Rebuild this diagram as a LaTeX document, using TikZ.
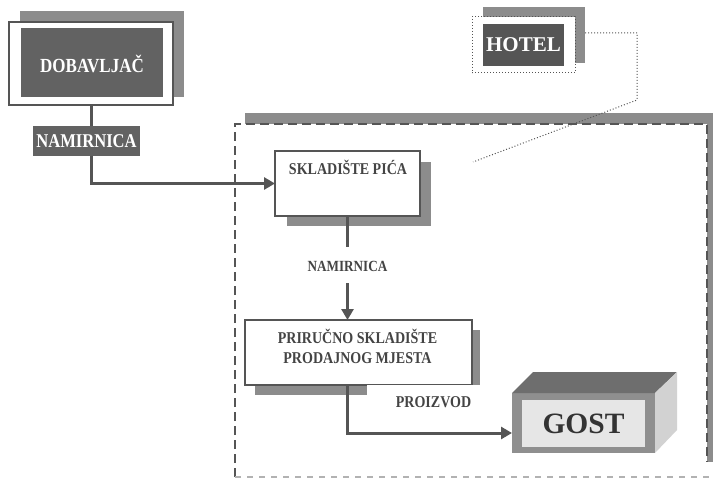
\documentclass[tikz,border=0pt]{standalone}
\usepackage{fontspec}
\setmainfont{Liberation Serif}
\newfontfamily\condfont[FakeStretch=0.85]{Liberation Serif}
\usetikzlibrary{arrows.meta}
\definecolor{dk}{HTML}{555555}
\definecolor{txt}{HTML}{444444}
\definecolor{boxdk}{HTML}{626262}
\definecolor{shd}{HTML}{8C8C8C}
\definecolor{topf}{HTML}{6E6E6E}
\definecolor{sidef}{HTML}{D2D2D2}
\definecolor{innerf}{HTML}{E6E6E6}
\definecolor{frontf}{HTML}{8F8F8F}
\begin{document}
\begin{tikzpicture}[x=1pt,y=-1pt,
  rect/.style={rectangle,inner sep=0pt,outer sep=0pt},
  shadowbox/.style={rect,fill=shd},
  whitebox/.style={rect,fill=white,draw=dk,line width=1.2pt},
  darkbox/.style={rect,fill=boxdk,text=white,font=\bfseries},
  lbl/.style={font=\condfont\bfseries\fontsize{16.5}{19.3}\selectfont,text=txt,align=center},
  flow/.style={draw=dk,line width=3pt},
  tip/.style={-{Triangle[length=11pt,width=12pt]}},
  dotline/.style={draw=dk,line width=1pt,dotted}
]
\useasboundingbox (0,0) rectangle (715,481);

% dashed region
\fill[shd] (245,113) rectangle (713,124);
\fill[shd] (707,113) rectangle (713,462);
\draw[dk,line width=2.5pt,dash pattern=on 9pt off 5pt] (235,477) -- (235,124) -- (707,124) -- (707,462);
\draw[gray!60,line width=1.5pt,dash pattern=on 6pt off 6pt] (235,477) -- (715,477);

% DOBAVLJAC
\node[shadowbox,minimum width=164pt,minimum height=86pt] (dobs) at (102,54) {};
\node[whitebox,minimum width=164pt,minimum height=83pt] (dob) at (91,63.5) {};
\node[darkbox,minimum width=142pt,minimum height=69pt] (dobi) at (92,62.5) {};
\node[text=white,font=\condfont\bfseries\fontsize{20}{22}\selectfont] (dobt) at (92,64) {DOBAVLJAČ};

% NAMIRNICA (top)
\node[darkbox,minimum width=107pt,minimum height=30pt,font=\condfont\bfseries\fontsize{19.5}{22}\selectfont] (nam1) at (86.5,141) {NAMIRNICA};

% SKLADISTE PICA
\node[shadowbox,minimum width=144pt,minimum height=64pt] (skls) at (359,194) {};
\node[whitebox,minimum width=145pt,minimum height=65pt] (skl) at (347.5,183.5) {};
\node[lbl] (sklt) at (348,167.5) {SKLADIŠTE PIĆA};

% NAMIRNICA (middle)
\node[lbl,font=\condfont\bfseries\fontsize{15.5}{18}\selectfont] (nam2) at (347.5,266) {NAMIRNICA};
\coordinate (m1) at (347.5,247);
\coordinate (m2) at (347.5,283);

% PRIRUCNO
\node[shadowbox,minimum width=225pt,minimum height=65pt] (pris) at (367.5,362.5) {};
\node[whitebox,minimum width=227pt,minimum height=65pt] (pri) at (358.5,352.5) {};
\node[lbl] (prit) at (357.5,346.5) {PRIRUČNO SKLADIŠTE\\PRODAJNOG MJESTA};
\node[rect,fill=white,minimum width=133pt,minimum height=34pt,lbl] (proiz) at (433.5,402) {PROIZVOD};

% GOST
\fill[frontf] (512,393) rectangle (655,453);
\fill[topf] (512,393) -- (533,372) -- (677,372) -- (655,393) -- cycle;
\fill[sidef] (655,393) -- (677,372) -- (677,430) -- (655,453) -- cycle;
\node[rect,fill=innerf,minimum width=123pt,minimum height=47pt,text=black!80,font=\bfseries\fontsize{29.5}{32}\selectfont] (gost) at (583.5,423.5) {GOST};
\coordinate (gin) at (512,433);

% HOTEL
\node[shadowbox,minimum width=102pt,minimum height=56pt] (hots) at (534,35) {};
\node[rect,fill=white,draw=dk,line width=1pt,dotted,minimum width=103pt,minimum height=56pt] (hot) at (523.5,45) {};
\node[darkbox,fill=dk,minimum width=81pt,minimum height=42pt,font=\bfseries\fontsize{21}{24}\selectfont] (hoti) at (523.5,45) {HOTEL};
\coordinate (h1) at (637,33);
\coordinate (h2) at (637,100);
\coordinate (h3) at (473,162);
\draw[dotline] (hots.east |- h1) -- (h1) -- (h2) -- (h3);

% flows
\draw[flow] (dob.south) -- (dob.south |- nam1.north);
\draw[flow,tip] (dob.south |- nam1.south) |- (skl.west);
\draw[flow] (skl.south) -- (m1);
\draw[flow,tip] (m2) -- (pri.north -| m2);
\draw[flow,tip] (pri.south -| m2) |- (gin);
\end{tikzpicture}
\end{document}
